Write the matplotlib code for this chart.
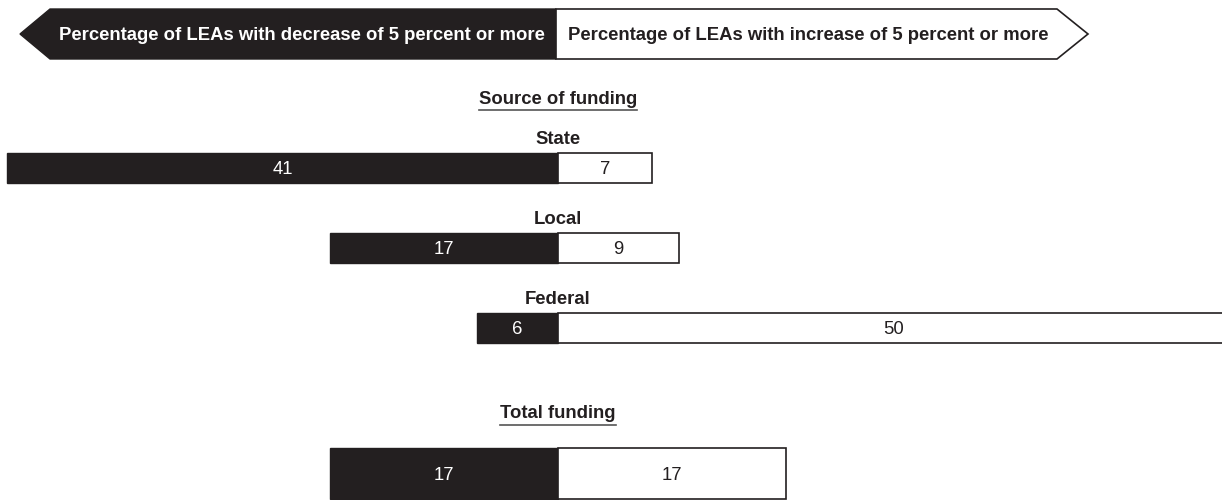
import matplotlib
matplotlib.use('Agg')
import matplotlib.pyplot as plt
from matplotlib.patches import Polygon

# data
categories = ['State', 'Local', 'Federal', 'Total funding']
decrease = [41, 17, 6, 17]
increase = [7, 9, 50, 17]
dec_label = 'Percentage of LEAs with decrease of 5 percent or more'
inc_label = 'Percentage of LEAs with increase of 5 percent or more'
group_title = 'Source of funding'

plt.rcParams['font.family'] = ['Liberation Sans', 'DejaVu Sans']
DARK = '#231f20'
FS = 13.3
VA = 'center_baseline'

W, H = 1222, 500
zero_px = 558
px_per_unit = 13.44

fig = plt.figure(figsize=(W / 100, H / 100), dpi=100)
# pixel overlay for header and titles
ov = fig.add_axes([0, 0, 1, 1])
ov.set_xlim(0, W)
ov.set_ylim(H, 0)
ov.axis('off')
# bars axes in percent units
ax = fig.add_axes([0, 0, 1, 1], sharey=ov)
ax.set_xlim(-zero_px / px_per_unit, (W - zero_px) / px_per_unit)
ax.axis('off')
ax.patch.set_alpha(0)

# header arrows
top, bot, mid = 9, 59, 34
ov.add_patch(Polygon([(20, mid), (50, top), (556, top), (556, bot), (50, bot)],
                     closed=True, facecolor=DARK, edgecolor=DARK, lw=1))
ov.add_patch(Polygon([(556, top), (1057, top), (1088, mid), (1057, bot), (556, bot)],
                     closed=True, facecolor='white', edgecolor=DARK, lw=1.2))
ov.text(302, mid, dec_label, color='white', fontsize=FS, fontweight='bold',
        ha='center', va=VA)
ov.text(808, mid, inc_label, color=DARK, fontsize=FS, fontweight='bold',
        ha='center', va=VA)

# layout of rows (pixels)
label_y = [138, 218, 298]
bar_top = [153, 233, 313, 448]
bar_h = [30, 30, 30, 51]

titles = []
titles.append(ov.text(zero_px, 97, group_title, fontsize=FS, fontweight='bold',
                      ha='center', va=VA, color=DARK))
titles.append(ov.text(zero_px, 412, categories[3], fontsize=FS, fontweight='bold',
                      ha='center', va=VA, color=DARK))
for i in range(3):
    ov.text(zero_px, label_y[i], categories[i], fontsize=FS, fontweight='bold',
            ha='center', va=VA, color=DARK)

for i in range(len(categories)):
    yc = bar_top[i] + bar_h[i] / 2
    ax.barh(yc, -decrease[i], height=bar_h[i], color=DARK, edgecolor=DARK, lw=1)
    ax.barh(yc, increase[i], height=bar_h[i], color='white', edgecolor=DARK, lw=1.2)
    ax.text(-decrease[i] / 2, yc, str(decrease[i]), color='white', fontsize=FS,
            ha='center', va=VA)
    ax.text(increase[i] / 2, yc, str(increase[i]), color=DARK, fontsize=FS,
            ha='center', va=VA)

# underlines under the section titles
fig.canvas.draw()
inv = ov.transData.inverted()
for t in titles:
    bb = t.get_window_extent()
    (x0, y0), (x1, y1) = inv.transform([(bb.x0, bb.y0), (bb.x1, bb.y1)])
    ov.plot([x0, x1], [y0 + 2, y0 + 2], color='#555555', lw=1.2)

fig.savefig('out.png', dpi=100)
